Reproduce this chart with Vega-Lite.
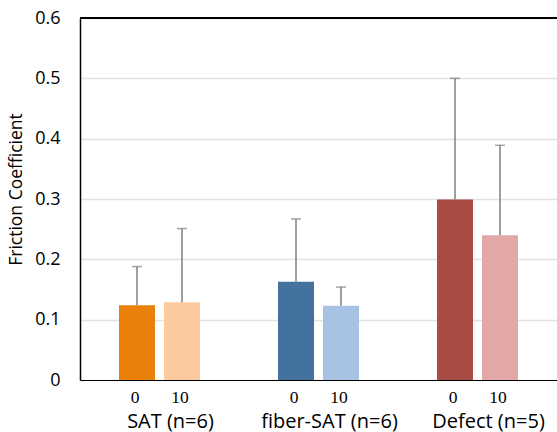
{
  "$schema": "https://vega.github.io/schema/vega-lite/v6.json",
  "width": 477,
  "height": 362,
  "autosize": {"type": "none"},
  "padding": {"left": 80, "top": 18, "right": 0, "bottom": 52},
  "config": {"view": {"stroke": null}, "font": "Open Sans"},
  "data": {
    "values": [
      {"group": "SAT (n=6)", "level": "0", "bar": "SAT-0", "value": 0.124, "upper": 0.188},
      {"group": "SAT (n=6)", "level": "10", "bar": "SAT-10", "value": 0.129, "upper": 0.251},
      {"group": "fiber-SAT (n=6)", "level": "0", "bar": "fiber-0", "value": 0.163, "upper": 0.267},
      {"group": "fiber-SAT (n=6)", "level": "10", "bar": "fiber-10", "value": 0.123, "upper": 0.154},
      {"group": "Defect (n=5)", "level": "0", "bar": "Defect-0", "value": 0.299, "upper": 0.5},
      {"group": "Defect (n=5)", "level": "10", "bar": "Defect-10", "value": 0.24, "upper": 0.389}
    ]
  },
  "layer": [
    {
      "mark": {"type": "bar"},
      "encoding": {
        "x": {
          "field": "group",
          "type": "nominal",
          "sort": ["SAT (n=6)", "fiber-SAT (n=6)", "Defect (n=5)"],
          "scale": {"paddingInner": 0, "paddingOuter": 0},
          "axis": {
            "title": null,
            "labelAngle": 0,
            "ticks": false,
            "domainColor": "#000000",
            "domainWidth": 1.2,
            "labelFontSize": 20,
            "labelColor": "#000000",
            "labelPadding": 31,
            "labelOffset": 11,
            "labelFont": "Open Sans"
          }
        },
        "xOffset": {
          "field": "level",
          "type": "nominal",
          "sort": ["0", "10"],
          "scale": {"paddingInner": 0.2, "paddingOuter": 0.8667}
        },
        "y": {
          "field": "value",
          "type": "quantitative",
          "scale": {"domain": [0, 0.6], "nice": false},
          "axis": {
            "title": "Friction Coefficient",
            "titleFontSize": 17.5,
            "titleFontWeight": "normal",
            "titleColor": "#000000",
            "titlePadding": 9,
            "titleY": 171,
            "values": [0, 0.1, 0.2, 0.3, 0.4, 0.5, 0.6],
            "format": "~g",
            "ticks": false,
            "labelFontSize": 18,
            "labelColor": "#000000",
            "labelPadding": 20,
            "domainColor": "#000000",
            "domainWidth": 1.5,
            "gridColor": "#e2e2e2",
            "gridWidth": 1.5
          }
        },
        "color": {
          "field": "bar",
          "type": "nominal",
          "legend": null,
          "scale": {
            "domain": ["SAT-0", "SAT-10", "fiber-0", "fiber-10", "Defect-0", "Defect-10"],
            "range": ["#E8800A", "#FBCB9F", "#44729F", "#A7C2E2", "#A84C46", "#E2A8A7"]
          }
        }
      }
    },
    {
      "mark": {"type": "rule", "color": "#7f7f7f", "strokeWidth": 1.5},
      "encoding": {
        "x": {"field": "group", "type": "nominal", "sort": ["SAT (n=6)", "fiber-SAT (n=6)", "Defect (n=5)"]},
        "xOffset": {"field": "level", "type": "nominal", "sort": ["0", "10"]},
        "y": {"field": "value", "type": "quantitative"},
        "y2": {"field": "upper"}
      }
    },
    {
      "mark": {"type": "tick", "color": "#7f7f7f", "thickness": 1.5, "size": 10},
      "encoding": {
        "x": {"field": "group", "type": "nominal", "sort": ["SAT (n=6)", "fiber-SAT (n=6)", "Defect (n=5)"]},
        "xOffset": {"field": "level", "type": "nominal", "sort": ["0", "10"]},
        "y": {"field": "upper", "type": "quantitative"}
      }
    },
    {
      "mark": {"type": "text", "font": "Liberation Serif", "fontSize": 17.5, "baseline": "middle", "dy": 18, "dx": -2, "color": "#000000"},
      "encoding": {
        "x": {"field": "group", "type": "nominal", "sort": ["SAT (n=6)", "fiber-SAT (n=6)", "Defect (n=5)"]},
        "xOffset": {"field": "level", "type": "nominal", "sort": ["0", "10"]},
        "y": {"datum": 0},
        "text": {"field": "level"}
      }
    },
    {
      "mark": {"type": "rule", "color": "#000000", "strokeWidth": 1.5},
      "encoding": {"y": {"datum": 0.6}}
    }
  ]
}
